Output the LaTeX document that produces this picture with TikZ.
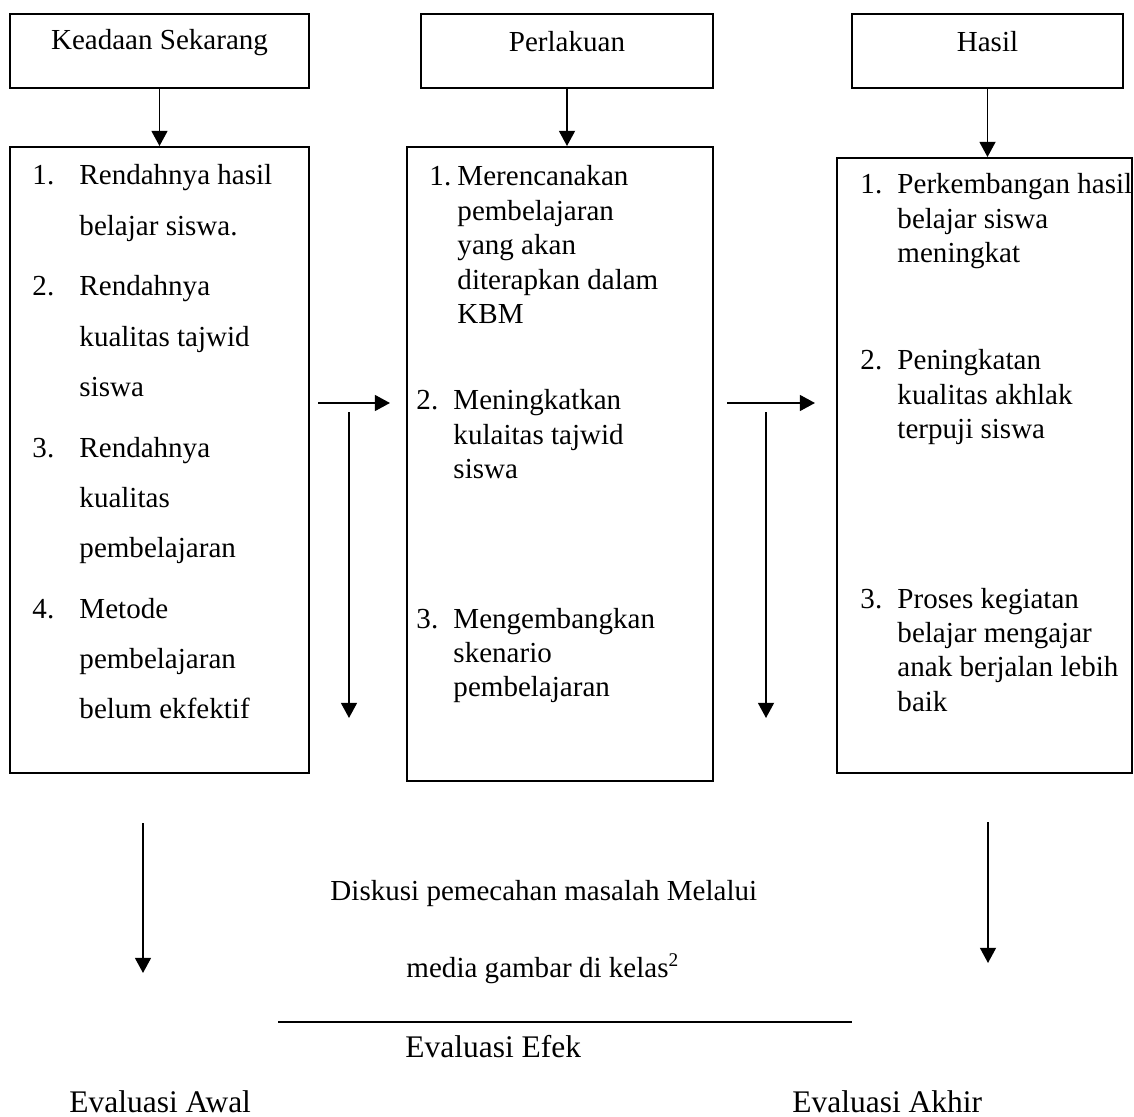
\documentclass[tikz,border=0pt]{standalone}
\usepackage{fontspec}
\setmainfont{Liberation Serif}
\usetikzlibrary{arrows.meta}
\usetikzlibrary{fit}

% baris pertama menjadi garis dasar node
\newcommand{\baris}[1]{\parbox[t]{8cm}{#1}}

\begin{document}
\begin{tikzpicture}[
    x=0.4132pt, y=-0.4132pt,
    kotak/.style={draw, line width=0.8pt, inner sep=0pt},
    judul/.style={anchor=base, inner sep=0pt, font=\fontsize{12}{14}\selectfont},
    isi/.style={anchor=base west, inner sep=0pt, font=\fontsize{12}{14.2}\selectfont},
    isi lebar/.style={isi, font=\fontsize{12}{20.7}\selectfont},
    bawah/.style={anchor=base west, inner sep=0pt, font=\fontsize{13}{15}\selectfont},
    panah/.style={line width=0.8pt, -{Triangle[length=6.3pt,width=6.6pt]}},
    ]
  \useasboundingbox (0,0) rectangle (1134,1117);

  % kotak atas
  \node[kotak, fit={(10,14) (309,88)}] (keadaan) {};
  \node[kotak, fit={(421,14) (713,88)}] (perlakuan) {};
  \node[kotak, fit={(852,14) (1123,88)}] (hasil) {};
  \node[judul] (tkeadaan) at (159.5,50) {Keadaan Sekarang};
  \node[judul] (tperlakuan) at (567,52) {Perlakuan};
  \node[judul] (thasil) at (987.5,52) {Hasil};

  % kotak isi
  \node[kotak, fit={(10,147) (309,773)}] (sekarang) {};
  \node[kotak, fit={(407,147) (713,781)}] (tindakan) {};
  \node[kotak, fit={(837,158) (1132,773)}] (capaian) {};

  \draw[panah] (keadaan.south) -- (sekarang.north);
  \draw[panah] (perlakuan.south) -- (perlakuan.south |- tindakan.north);
  \draw[panah] (hasil.south) -- (hasil.south |- capaian.north);

  % keadaan sekarang
  \node[isi lebar] (na1) at (32,185) {1.};
  \node[isi lebar] (ta1) at (79,185) {\baris{Rendahnya hasil\\belajar siswa.}};
  \node[isi lebar] (na2) at (32,296) {2.};
  \node[isi lebar] (ta2) at (79,296) {\baris{Rendahnya\\kualitas tajwid\\siswa}};
  \node[isi lebar] (na3) at (32,457) {3.};
  \node[isi lebar] (ta3) at (79,457) {\baris{Rendahnya\\kualitas\\pembelajaran}};
  \node[isi lebar] (na4) at (32,618) {4.};
  \node[isi lebar] (ta4) at (79,618) {\baris{Metode\\pembelajaran\\belum ekfektif}};

  % perlakuan
  \node[isi] (nb1) at (429,186) {1.};
  \node[isi] (tb1) at (457,186) {\baris{Merencanakan\\pembelajaran\\yang akan\\diterapkan dalam\\KBM}};
  \node[isi] (nb2) at (416,410) {2.};
  \node[isi] (tb2) at (453,410) {\baris{Meningkatkan\\kulaitas tajwid\\siswa}};
  \node[isi] (nb3) at (416,628) {3.};
  \node[isi] (tb3) at (453,628) {\baris{Mengembangkan\\skenario\\pembelajaran}};

  % hasil
  \node[isi] (nc1) at (860,194) {1.};
  \node[isi] (tc1) at (897,194) {\baris{Perkembangan hasil\\belajar siswa\\meningkat}};
  \node[isi] (nc2) at (860,370) {2.};
  \node[isi] (tc2) at (897,370) {\baris{Peningkatan\\kualitas akhlak\\terpuji siswa}};
  \node[isi] (nc3) at (860,608) {3.};
  \node[isi] (tc3) at (897,608) {\baris{Proses kegiatan\\belajar mengajar\\anak berjalan lebih\\baik}};

  % panah tengah
  \coordinate (ab1) at (318,403);
  \coordinate (ab2) at (390,403);
  \coordinate (ab3) at (349,412);
  \coordinate (ab4) at (349,718);
  \coordinate (bc1) at (727,403);
  \coordinate (bc2) at (815,403);
  \coordinate (bc3) at (766,412);
  \coordinate (bc4) at (766,718);
  \draw[panah] (ab1) -- (ab2);
  \draw[panah] (ab3) -- (ab4);
  \draw[panah] (bc1) -- (bc2);
  \draw[panah] (bc3) -- (bc4);

  % evaluasi
  \coordinate (ev1) at (143,823);
  \coordinate (ev2) at (143,973);
  \coordinate (ev3) at (988,822);
  \coordinate (ev4) at (988,963);
  \draw[panah] (ev1) -- (ev2);
  \draw[panah] (ev3) -- (ev4);

  \node[isi] (diskusi) at (330,900) {Diskusi pemecahan masalah Melalui};
  \node[isi] (media) at (406,977) {media gambar di kelas\textsuperscript{2}};
  \coordinate (gs1) at (278,1022);
  \coordinate (gs2) at (852,1022);
  \draw[line width=0.8pt] (gs1) -- (gs2);
  \node[bawah] (efek) at (405,1057) {Evaluasi Efek};
  \node[bawah] (awal) at (69,1112) {Evaluasi Awal};
  \node[bawah] (akhir) at (792,1112) {Evaluasi Akhir};
\end{tikzpicture}
\end{document}
